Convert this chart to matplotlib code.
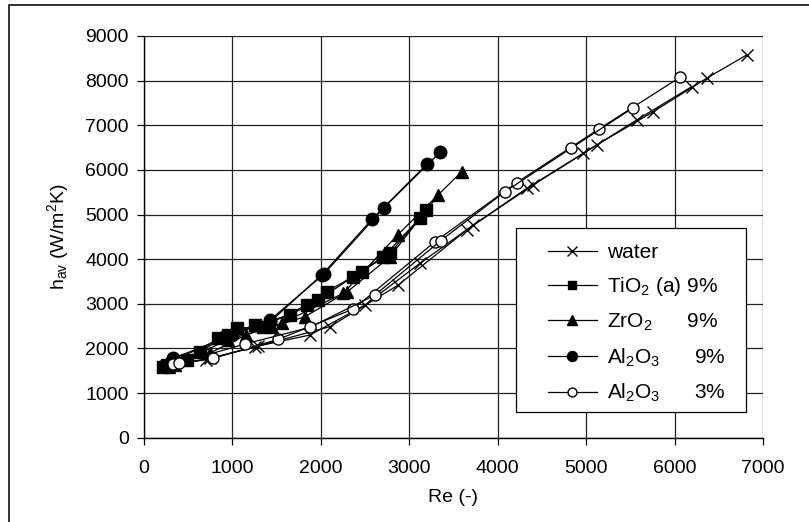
import matplotlib
matplotlib.use("Agg")
import matplotlib.pyplot as plt
from matplotlib.lines import Line2D
from matplotlib.patches import Rectangle

plt.rcParams['font.family'] = ['Liberation Sans', 'DejaVu Sans']
plt.rcParams['mathtext.fontset'] = 'custom'
plt.rcParams['mathtext.rm'] = 'Liberation Sans'
plt.rcParams['mathtext.it'] = 'Liberation Sans:italic'

# water, two measurement runs
water_re_1 = [250, 700, 1293, 1877, 2499, 3121, 3724, 4402, 5119, 5760, 6363, 6815]
water_h_1 = [1600, 1750, 2054, 2301, 2973, 3908, 4766, 5662, 6558, 7305, 8053, 8575]
water_re_2 = [300, 746, 1250, 2103, 2876, 3649, 4328, 4968, 5571, 6193]
water_h_2 = [1620, 1779, 2030, 2488, 3421, 4654, 5588, 6372, 7118, 7865]

# TiO2 (a) 9%
tio2_re_1 = [218, 633, 953, 1255, 1651, 1971, 2367, 2706, 3121]
tio2_h_1 = [1591, 1927, 2301, 2525, 2749, 3085, 3608, 4056, 4916]
tio2_re_2 = [260, 482, 840, 1048, 1349, 1840, 2066, 2462, 2782, 3190]
tio2_h_2 = [1620, 1741, 2227, 2451, 2488, 2973, 3272, 3720, 4132, 5100]

# ZrO2 9%
zro2_re_1 = [280, 750, 1150, 1557, 2254, 2867, 3593]
zro2_h_1 = [1580, 1900, 2300, 2563, 3236, 4542, 5961]
zro2_re_2 = [350, 950, 1450, 1821, 2300, 2780, 3328]
zro2_h_2 = [1620, 2200, 2480, 2712, 3270, 4050, 5438]

# Al2O3 9%
al9_re_1 = [331, 1000, 1425, 2036, 2714, 3347]
al9_h_1 = [1779, 2300, 2637, 3668, 5154, 6394]
al9_re_2 = [300, 900, 1430, 2009, 2582, 3197]
al9_h_2 = [1700, 2250, 2600, 3646, 4901, 6125]

# Al2O3 3%
al3_re_1 = [330, 784, 1519, 2367, 3290, 4214, 5145, 6061]
al3_h_1 = [1650, 1779, 2204, 2884, 4390, 5714, 6917, 8075]
al3_re_2 = [400, 1142, 1877, 2612, 3355, 4082, 4829, 5533]
al3_h_2 = [1680, 2099, 2473, 3197, 4414, 5512, 6484, 7394]

labels = ['water', 'TiO$_2$ (a) 9%', 'ZrO$_2$      9%',
          'Al$_2$O$_3$      9%', 'Al$_2$O$_3$      3%']

W, H = 809, 522
fig = plt.figure(figsize=(W / 100, H / 100), dpi=100)
# plot area in pixels: x 144..763, y 36..437.7
x0, x1, y0, y1 = 144, 763, 36, 437.7
ax = fig.add_axes([x0 / W, 1 - y1 / H, (x1 - x0) / W, (y1 - y0) / H])

def ax_frac(px, py):
    return (px - x0) / (x1 - x0), (y1 - py) / (y1 - y0)

lw = 0.9
styles = [
    dict(marker='x', ms=9, mew=1.0, color='black', mfc='black'),
    dict(marker='s', ms=8, color='black', mfc='black'),
    dict(marker='^', ms=9, color='black', mfc='black'),
    dict(marker='o', ms=9, color='black', mfc='black'),
    dict(marker='o', ms=8, color='black', mfc='white', mew=1.0),
]
runs = [
    [(water_re_1, water_h_1), (water_re_2, water_h_2)],
    [(tio2_re_1, tio2_h_1), (tio2_re_2, tio2_h_2)],
    [(zro2_re_1, zro2_h_1), (zro2_re_2, zro2_h_2)],
    [(al9_re_1, al9_h_1), (al9_re_2, al9_h_2)],
    [(al3_re_1, al3_h_1), (al3_re_2, al3_h_2)],
]
handles = []
for st, rr, lab in zip(styles, runs, labels):
    for xs, ys in rr:
        ax.plot(xs, ys, lw=lw, **st, zorder=3)
    handles.append(Line2D([], [], lw=lw, color='black', marker=st['marker'],
                          ms=st['ms'] * 0.8, mfc=st['mfc'], mew=st.get('mew', 1.0),
                          label=lab))

ax.set_xlim(0, 7000)
ax.set_ylim(0, 9000)
ax.set_xticks(range(0, 7001, 1000))
ax.set_yticks(range(0, 9001, 1000))
ax.grid(True, color='#202020', lw=0.9)
ax.set_axisbelow(True)
for s in ['top', 'right']:
    ax.spines[s].set_visible(False)
for s in ['left', 'bottom']:
    ax.spines[s].set_linewidth(1.0)
ax.tick_params(direction='out', length=5, width=0.9, labelsize=14)
ax.tick_params(axis='y', pad=6)
ax.tick_params(axis='x', pad=11)
ax.set_xlabel('Re (-)', fontsize=14, labelpad=9)
ax.set_ylabel(r'h$_{\mathrm{av}}$ (W/m$^2$K)', fontsize=14, labelpad=10)

# legend box (white, black edge), entries drawn on top of it
bx0, by0 = ax_frac(516, 412)
bx1, by1 = ax_frac(746, 228)
ax.add_patch(Rectangle((bx0, by0), bx1 - bx0, by1 - by0, transform=ax.transAxes,
                       facecolor='white', edgecolor='black', lw=0.9, zorder=4,
                       clip_on=False))
lx, ly = ax_frac(548, 243)
leg = ax.legend(handles=handles, loc='upper left', bbox_to_anchor=(lx, ly),
                fontsize=15, frameon=False, handlelength=2.35, handletextpad=0.5,
                labelspacing=0.64, borderpad=0, borderaxespad=0)
leg.set_zorder(5)

# outer frame around the figure (cut at right / bottom)
fig.add_artist(Line2D([9 / W, 9 / W, 1.0], [0.0, 1 - 5 / H, 1 - 5 / H],
                      transform=fig.transFigure, color='#303030', lw=1.4))

fig.savefig('out.png', dpi=100)
